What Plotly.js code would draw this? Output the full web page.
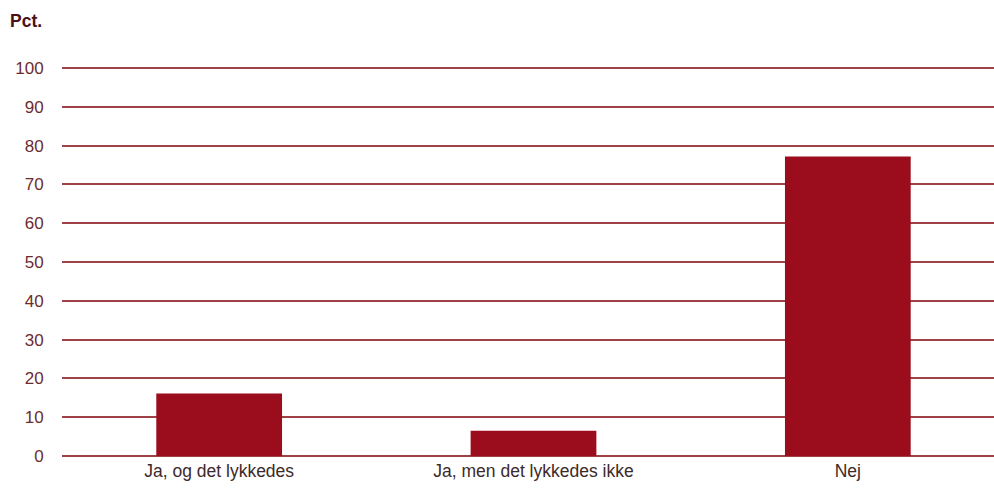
<!DOCTYPE html>
<html>
<head>
<meta charset="utf-8">
<script src="https://cdn.plot.ly/plotly-3.0.1.min.js"></script>
<style>html,body{margin:0;padding:0;background:#fff;}#chart{width:994px;height:488px;}</style>
</head>
<body>
<div id="chart"></div>
<script>
const categories = ["Ja, og det lykkedes", "Ja, men det lykkedes ikke", "Nej"];
const values = [16.1, 6.5, 77.2];
const yTicks = [0, 10, 20, 30, 40, 50, 60, 70, 80, 90, 100];

const trace = {
  type: 'bar',
  x: categories,
  y: values,
  width: 0.4,
  marker: {color: '#9b0c1c', line: {width: 0}},
  hoverinfo: 'x+y'
};

const layout = {
  width: 994,
  height: 488,
  margin: {l: 62, r: 0, t: 66, b: 30},
  paper_bgcolor: '#ffffff',
  plot_bgcolor: '#ffffff',
  showlegend: false,
  font: {family: 'Liberation Sans, Arial, sans-serif', size: 16, color: '#5b2226'},
  xaxis: {
    type: 'category',
    range: [-0.5, 2.465],
    showgrid: false,
    zeroline: false,
    showline: false,
    ticks: '',
    tickfont: {size: 17.5, color: '#3d2a2a'},
    fixedrange: true
  },
  yaxis: {
    range: [-0.515, 100.515],
    tickvals: yTicks,
    ticktext: yTicks.map(String),
    showgrid: true,
    gridcolor: '#9e4248',
    gridwidth: 2,
    zeroline: false,
    showline: false,
    ticks: 'outside',
    ticklen: 14,
    tickcolor: 'rgba(0,0,0,0)',
    tickfont: {size: 17, color: '#6b2c30'},
    fixedrange: true
  },
  annotations: [{
    text: '<b>Pct.</b>',
    xref: 'paper', yref: 'paper',
    x: -0.058, y: 1.115,
    xanchor: 'left', yanchor: 'middle',
    showarrow: false,
    font: {size: 17.5, color: '#4a1015', family: 'Liberation Sans, Arial, sans-serif'}
  }]
};

Plotly.newPlot('chart', [trace], layout, {displayModeBar: false, staticPlot: true});
</script>
</body>
</html>
